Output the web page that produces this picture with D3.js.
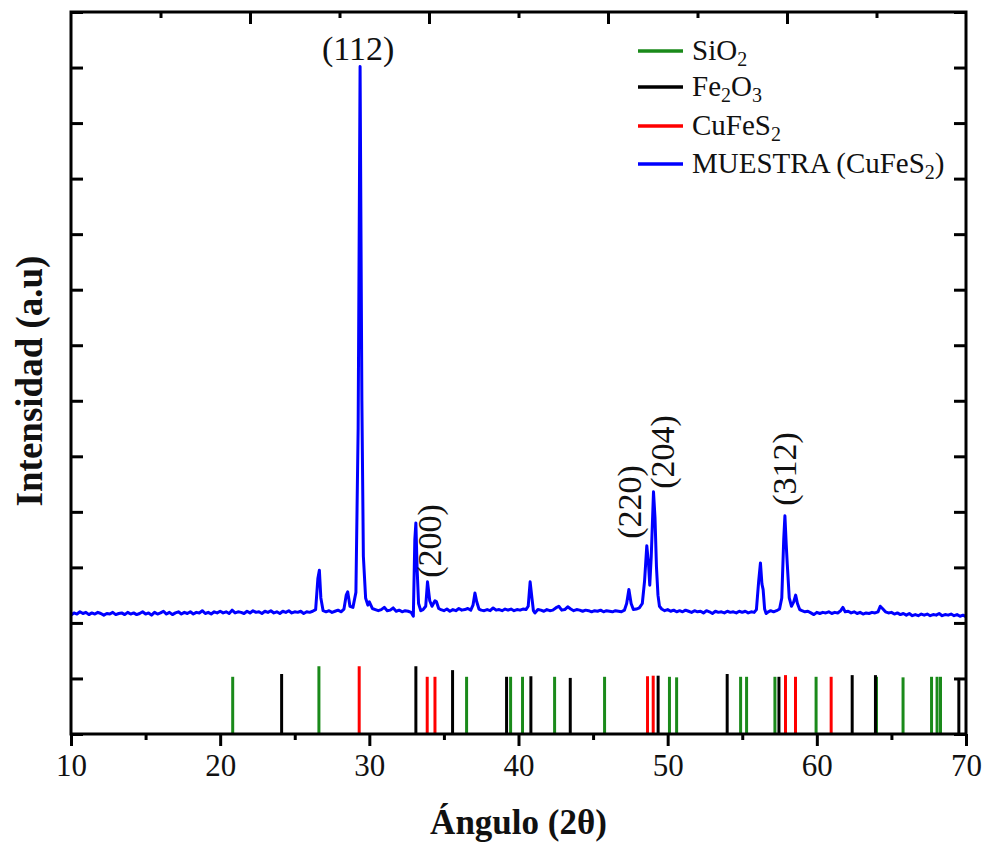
<!DOCTYPE html>
<html>
<head>
<meta charset="utf-8">
<title>DRX CuFeS2</title>
<script src="https://cdn.jsdelivr.net/npm/d3@7"></script>
<style>
body{ margin:0; background:#fff; }
svg{ font-family:"Liberation Serif","Times New Roman",serif; }
</style>
</head>
<body>
<script>
  // patrones de referencia (2θ y altura relativa)
  var sio2Angle = [20.84, 26.62, 36.52, 39.47, 40.27, 42.42, 45.77, 50.12, 50.6, 54.89, 55.29, 57.19, 59.95, 64.0, 65.78, 67.69, 68.06, 68.29];
  var sio2Height = [1.03, 1.22, 1.03, 1.03, 1.03, 1.03, 1.03, 1.03, 1.02, 1.03, 1.03, 1.03, 1.03, 1.03, 1.02, 1.03, 1.03, 1.03];
  var fe2o3Angle = [24.12, 33.12, 35.58, 39.2, 40.83, 43.47, 49.36, 53.99, 57.46, 62.37, 63.93, 69.52];
  var fe2o3Height = [1.08, 1.22, 1.15, 1.03, 1.04, 1.01, 1.05, 1.08, 1.03, 1.06, 1.06, 1.01];
  var cufes2Angle = [29.32, 33.88, 34.4, 48.65, 49.03, 57.9, 58.57, 60.96];
  var cufes2Height = [1.22, 1.03, 1.03, 1.04, 1.05, 1.06, 1.03, 1.03];

  // planos indexados
  var peakLabels = ["(112)", "(200)", "(220)", "(204)", "(312)"];
  var peakAngles = [29.38, 33.9, 48.6, 49.05, 57.86];

  var xTicks = [10, 20, 30, 40, 50, 60, 70];

  // muestra: [2θ, intensidad]
  var muestra = [
    [10.0,2.14],[10.2,2.18],[10.4,2.16],[10.6,2.20],[10.8,2.17],[11.0,2.19],[11.2,2.15],[11.4,2.18],[11.6,2.16],[11.8,2.19],
    [12.0,2.17],[12.2,2.14],[12.4,2.17],[12.6,2.16],[12.8,2.19],[13.0,2.15],[13.2,2.17],[13.4,2.18],[13.6,2.15],[13.8,2.19],
    [14.0,2.16],[14.2,2.18],[14.4,2.15],[14.6,2.17],[14.8,2.20],[15.0,2.16],[15.2,2.18],[15.4,2.14],[15.6,2.19],[15.8,2.16],
    [16.0,2.18],[16.2,2.21],[16.4,2.16],[16.6,2.19],[16.8,2.15],[17.0,2.18],[17.2,2.20],[17.4,2.16],[17.6,2.19],[17.8,2.17],
    [18.0,2.20],[18.2,2.16],[18.4,2.19],[18.6,2.18],[18.8,2.22],[19.0,2.17],[19.2,2.19],[19.4,2.16],[19.6,2.20],[19.8,2.18],
    [20.0,2.21],[20.2,2.18],[20.4,2.20],[20.6,2.17],[20.8,2.23],[21.0,2.18],[21.2,2.20],[21.4,2.19],[21.6,2.17],[21.8,2.21],
    [22.0,2.18],[22.2,2.22],[22.4,2.19],[22.6,2.20],[22.8,2.17],[23.0,2.21],[23.2,2.19],[23.4,2.22],[23.6,2.18],[23.8,2.20],
    [24.0,2.17],[24.2,2.21],[24.4,2.19],[24.6,2.22],[24.8,2.18],[25.0,2.20],[25.2,2.19],[25.4,2.21],[25.6,2.17],[25.8,2.20],
    [26.0,2.19],[26.2,2.21],[26.4,2.24],[26.55,2.80],[26.65,2.95],[26.75,2.45],[26.9,2.22],[27.1,2.20],[27.3,2.22],[27.5,2.19],
    [27.7,2.21],[27.9,2.23],[28.1,2.20],[28.3,2.25],[28.45,2.50],[28.55,2.56],[28.7,2.30],[28.9,2.28],[29.1,2.55],[29.25,5.5],
    [29.38,12.02],[29.5,6.0],[29.6,3.2],[29.75,2.45],[29.9,2.32],[30.0,2.38],[30.2,2.26],[30.4,2.24],[30.6,2.22],[30.8,2.24],
    [31.0,2.28],[31.2,2.22],[31.4,2.23],[31.6,2.27],[31.8,2.21],[32.0,2.23],[32.2,2.20],[32.4,2.22],[32.6,2.21],[32.8,2.19],
    [32.95,2.12],[33.05,3.5],[33.12,3.80],[33.2,3.0],[33.3,2.35],[33.45,2.22],[33.6,2.24],[33.78,2.30],[33.9,2.74],[34.05,2.40],
    [34.2,2.30],[34.4,2.40],[34.5,2.38],[34.65,2.26],[34.8,2.24],[35.0,2.22],[35.2,2.25],[35.4,2.21],[35.6,2.24],[35.8,2.22],
    [36.0,2.26],[36.2,2.23],[36.4,2.24],[36.6,2.26],[36.8,2.23],[36.95,2.32],[37.08,2.54],[37.2,2.38],[37.35,2.25],[37.5,2.23],
    [37.7,2.22],[37.9,2.24],[38.1,2.22],[38.3,2.27],[38.5,2.23],[38.7,2.24],[38.9,2.22],[39.1,2.25],[39.3,2.23],[39.5,2.25],
    [39.7,2.22],[39.9,2.24],[40.1,2.23],[40.3,2.25],[40.5,2.24],[40.65,2.30],[40.78,2.74],[40.9,2.45],[41.0,2.22],[41.1,2.18],
    [41.3,2.24],[41.5,2.23],[41.7,2.21],[41.9,2.24],[42.1,2.22],[42.3,2.23],[42.5,2.27],[42.7,2.30],[42.9,2.23],[43.1,2.24],
    [43.3,2.29],[43.5,2.25],[43.7,2.22],[43.9,2.24],[44.1,2.23],[44.3,2.21],[44.5,2.23],[44.7,2.22],[44.9,2.20],[45.1,2.22],
    [45.3,2.21],[45.5,2.23],[45.7,2.20],[45.9,2.22],[46.1,2.21],[46.3,2.20],[46.5,2.22],[46.7,2.21],[46.9,2.20],[47.1,2.23],
    [47.25,2.35],[47.4,2.60],[47.55,2.35],[47.7,2.24],[47.9,2.25],[48.1,2.27],[48.3,2.35],[48.45,2.75],[48.6,3.39],[48.72,3.05],
    [48.8,2.68],[48.9,3.2],[49.05,4.36],[49.15,3.9],[49.25,3.0],[49.35,2.50],[49.45,2.30],[49.6,2.25],[49.8,2.22],[50.0,2.24],
    [50.2,2.21],[50.4,2.23],[50.6,2.20],[50.8,2.22],[51.0,2.20],[51.2,2.23],[51.4,2.21],[51.6,2.19],[51.8,2.22],[52.0,2.20],
    [52.2,2.21],[52.4,2.18],[52.6,2.22],[52.8,2.20],[53.0,2.17],[53.2,2.21],[53.4,2.19],[53.6,2.20],[53.8,2.18],[54.0,2.21],
    [54.2,2.19],[54.4,2.20],[54.6,2.18],[54.8,2.21],[55.0,2.19],[55.2,2.21],[55.4,2.18],[55.6,2.20],[55.8,2.19],[55.95,2.24],
    [56.1,2.75],[56.22,3.08],[56.32,2.70],[56.4,2.60],[56.5,2.25],[56.6,2.17],[56.75,2.20],[56.9,2.22],[57.1,2.20],[57.3,2.22],
    [57.5,2.25],[57.65,2.45],[57.78,3.50],[57.86,3.93],[57.95,3.40],[58.02,3.05],[58.15,2.45],[58.3,2.30],[58.45,2.38],[58.58,2.50],
    [58.7,2.35],[58.85,2.24],[59.0,2.22],[59.2,2.20],[59.4,2.21],[59.6,2.18],[59.8,2.15],[60.0,2.19],[60.2,2.17],[60.4,2.19],
    [60.6,2.18],[60.8,2.20],[61.0,2.17],[61.2,2.19],[61.4,2.18],[61.6,2.22],[61.75,2.28],[61.9,2.20],[62.1,2.21],[62.3,2.18],
    [62.5,2.20],[62.7,2.17],[62.9,2.19],[63.1,2.16],[63.3,2.18],[63.5,2.17],[63.7,2.19],[63.9,2.18],[64.1,2.20],[64.25,2.30],
    [64.4,2.26],[64.6,2.20],[64.8,2.18],[65.0,2.19],[65.2,2.16],[65.4,2.18],[65.6,2.15],[65.8,2.17],[66.0,2.14],[66.2,2.17],
    [66.4,2.13],[66.6,2.15],[66.8,2.13],[67.0,2.16],[67.2,2.14],[67.4,2.16],[67.6,2.13],[67.8,2.15],[68.0,2.14],[68.2,2.17],
    [68.4,2.13],[68.6,2.15],[68.8,2.14],[69.0,2.16],[69.2,2.13],[69.4,2.15],[69.6,2.12],[69.8,2.14],[70.0,2.11]
  ];

  var width = 984;
  var height = 847;
  var pLeft = 71, pRight = 966, pTop = 12, pBottom = 734;

  var svg = d3.select("body").append("svg").attr("width", width).attr("height", height);

  var x = d3.scaleLinear().domain([10, 70]).range([pLeft, pRight]);
  var y = d3.scaleLinear().domain([0, 13]).range([pBottom, pTop]);
  // eje superior: divisiones propias
  var xTop = d3.scaleLinear().domain([0, 10]).range([pLeft, pRight]);

  svg.append("clipPath").attr("id", "area")
    .append("rect").attr("x", pLeft).attr("y", pTop).attr("width", pRight - pLeft).attr("height", pBottom - pTop);

  // barras de referencia
  var phases = [
    { angle: sio2Angle, h: sio2Height, color: "#1a8a1a" },
    { angle: fe2o3Angle, h: fe2o3Height, color: "#000000" },
    { angle: cufes2Angle, h: cufes2Height, color: "#ff0000" }
  ];
  phases.forEach(function(p) {
    svg.append("g").selectAll("line")
      .data(p.angle)
      .enter()
      .append("line")
      .attr("x1", function(d) { return x(d); })
      .attr("x2", function(d) { return x(d); })
      .attr("y1", y(0))
      .attr("y2", function(d, i) { return y(p.h[i]); })
      .attr("stroke", p.color)
      .attr("stroke-width", 3);
  });

  // difractograma
  var line = d3.line()
    .x(function(d) { return x(d[0]); })
    .y(function(d) { return y(d[1]); });

  svg.append("path")
    .datum(muestra)
    .attr("clip-path", "url(#area)")
    .attr("fill", "none")
    .attr("stroke", "#0000ff")
    .attr("stroke-width", 3)
    .attr("stroke-linejoin", "round")
    .attr("d", line);

  // ejes
  var gx = svg.append("g").attr("transform", "translate(0," + pBottom + ")")
    .call(d3.axisBottom(x).tickValues(xTicks).tickSize(12).tickPadding(8).tickFormat(d3.format("d")));
  svg.append("g").attr("transform", "translate(0," + pBottom + ")")
    .call(d3.axisBottom(x).tickValues([15, 25, 35, 45, 55, 65]).tickSize(6).tickFormat(""));
  gx.selectAll("text").attr("font-size", 31).attr("font-family", "Liberation Serif").attr("fill", "#111");

  svg.append("g").attr("transform", "translate(0," + pTop + ")")
    .call(d3.axisBottom(xTop).tickValues([2, 4, 6, 8]).tickSize(12).tickFormat(""));
  svg.append("g").attr("transform", "translate(0," + pTop + ")")
    .call(d3.axisBottom(xTop).tickValues([1, 3, 5, 7, 9]).tickSize(6).tickFormat(""));

  svg.append("g").attr("transform", "translate(" + pLeft + ",0)")
    .call(d3.axisRight(y).ticks(13).tickSize(12).tickFormat(""));
  svg.append("g").attr("transform", "translate(" + pRight + ",0)")
    .call(d3.axisLeft(y).ticks(13).tickSize(12).tickFormat(""));

  svg.selectAll(".domain").remove();
  svg.selectAll(".tick line").attr("stroke", "#000").attr("stroke-width", 3);

  // marco
  svg.append("rect")
    .attr("x", pLeft).attr("y", pTop)
    .attr("width", pRight - pLeft).attr("height", pBottom - pTop)
    .attr("fill", "none").attr("stroke", "#000").attr("stroke-width", 3);

  // títulos
  svg.append("text")
    .attr("x", (pLeft + pRight) / 2).attr("y", 834)
    .attr("text-anchor", "middle")
    .attr("font-size", 35).attr("font-weight", "bold").attr("fill", "#111")
    .text("Ángulo (2θ)");

  svg.append("text")
    .attr("transform", "translate(42," + 381 + ") rotate(-90)")
    .attr("text-anchor", "middle")
    .attr("font-size", 37).attr("font-weight", "bold").attr("fill", "#111")
    .text("Intensidad (a.u)");

  // etiquetas de picos
  svg.append("text")
    .attr("x", x(peakAngles[0]) - 2).attr("y", 60)
    .attr("text-anchor", "middle").attr("font-size", 34).attr("fill", "#111")
    .text(peakLabels[0]);

  var rotOffsets = [[13, 541], [-6, 502], [21, 452], [11, 469]];
  peakLabels.slice(1).forEach(function(lbl, i) {
    svg.append("text")
      .attr("transform", "translate(" + (x(peakAngles[i + 1]) + rotOffsets[i][0]) + "," + rotOffsets[i][1] + ") rotate(-90)")
      .attr("text-anchor", "middle").attr("font-size", 34).attr("fill", "#111")
      .text(lbl);
  });

  // leyenda
  var legend = [
    { parts: [["SiO", 0], ["2", 1]], color: "#1a8a1a" },
    { parts: [["Fe", 0], ["2", 1], ["O", 0], ["3", 1]], color: "#000000" },
    { parts: [["CuFeS", 0], ["2", 1]], color: "#ff0000" },
    { parts: [["MUESTRA (CuFeS", 0], ["2", 1], [")", 0]], color: "#0000ff" }
  ];
  var legendY = [51, 87, 126, 164];
  legend.forEach(function(l, i) {
    var g = svg.append("g").attr("transform", "translate(638," + legendY[i] + ")");
    g.append("line").attr("x1", 0).attr("x2", 45).attr("stroke", l.color).attr("stroke-width", 3.5);
    var t = g.append("text").attr("x", 54).attr("y", 9).attr("font-size", 29).attr("fill", "#111");
    l.parts.forEach(function(p) {
      t.append("tspan")
        .attr("font-size", p[1] ? 20 : 29)
        .attr("baseline-shift", p[1] ? "-30%" : null)
        .text(p[0]);
    });
  });
</script>
</body>
</html>
